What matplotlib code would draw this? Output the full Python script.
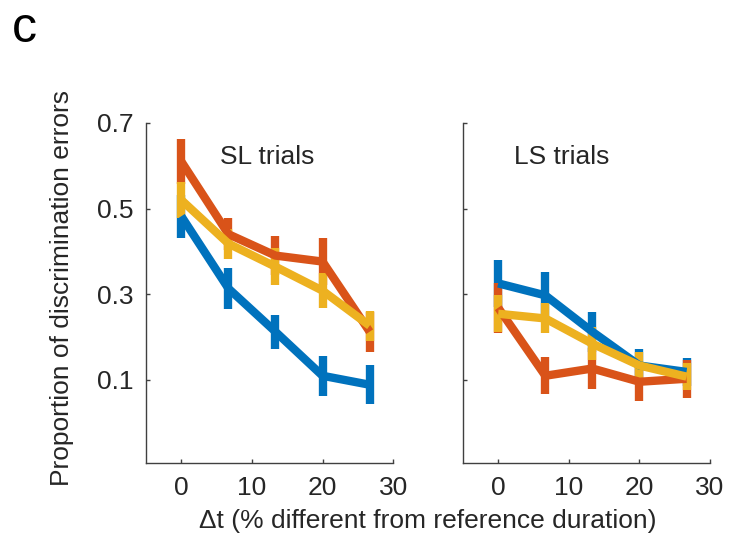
import matplotlib
matplotlib.use("Agg")
import matplotlib.pyplot as plt

plt.rcParams["font.family"] = ["Liberation Sans", "DejaVu Sans"]

# x positions (% difference from reference duration)
dt = [0, 6.67, 13.33, 20, 26.67]

# SL trials
sl_blue = [0.482, 0.313, 0.212, 0.109, 0.088]
sl_blue_err = [0.05, 0.049, 0.04, 0.047, 0.045]
sl_red = [0.61, 0.44, 0.39, 0.376, 0.212]
sl_red_err = [0.052, 0.037, 0.045, 0.055, 0.047]
sl_yellow = [0.52, 0.418, 0.364, 0.308, 0.226]
sl_yellow_err = [0.041, 0.035, 0.043, 0.041, 0.035]

# LS trials
ls_blue = [0.325, 0.297, 0.212, 0.133, 0.118]
ls_blue_err = [0.055, 0.055, 0.047, 0.039, 0.033]
ls_red = [0.268, 0.109, 0.126, 0.095, 0.102]
ls_red_err = [0.058, 0.043, 0.049, 0.045, 0.045]
ls_yellow = [0.254, 0.243, 0.184, 0.133, 0.107]
ls_yellow_err = [0.043, 0.035, 0.039, 0.031, 0.031]

colors = ["#0072BD", "#D95319", "#EDB120"]
txt = "#262626"
fs = 19

fig = plt.figure(figsize=(7.29, 5.43), dpi=100)
ax1 = fig.add_axes([0.2003, 0.1473, 0.339, 0.6262])
ax2 = fig.add_axes([0.635, 0.1473, 0.339, 0.6262])

panels = [
    (ax1, [(sl_blue, sl_blue_err), (sl_red, sl_red_err), (sl_yellow, sl_yellow_err)], "SL trials", 0.49),
    (ax2, [(ls_blue, ls_blue_err), (ls_red, ls_red_err), (ls_yellow, ls_yellow_err)], "LS trials", 0.40),
]

for ax, series, title, tx in panels:
    for (vals, errs), c in zip(series, colors):
        ax.errorbar(dt, vals, yerr=errs, color=c, lw=6, elinewidth=6, capsize=0,
                    solid_capstyle="butt", solid_joinstyle="round")
    ax.set_xlim(-5, 30)
    ax.set_ylim(-0.095, 0.7)
    ax.set_xticks([0, 10, 20, 30])
    ax.set_yticks([0.1, 0.3, 0.5, 0.7])
    for s in ["top", "right"]:
        ax.spines[s].set_visible(False)
    for s in ["left", "bottom"]:
        ax.spines[s].set_color("#404040")
        ax.spines[s].set_linewidth(1.0)
    ax.tick_params(direction="in", length=3, width=1, color="#404040",
                   labelsize=fs, labelcolor=txt, pad=9)
    ax.text(tx, 0.9, title, transform=ax.transAxes, ha="center", va="center",
            fontsize=fs, color=txt)

ax2.tick_params(labelleft=False)
ax1.set_yticklabels(["0.1", "0.3", "0.5", "0.7"])

fig.text(0.085, 0.47, "Proportion of discrimination errors", rotation=90,
         ha="center", va="center", fontsize=fs, color=txt)
fig.text(0.587, 0.04, "\u0394t (% different from reference duration)",
         ha="center", va="center", fontsize=fs, color=txt)
fig.text(0.034, 0.947, "c", ha="center", va="center", fontsize=36, color="black")

fig.savefig("out.png", dpi=100)
